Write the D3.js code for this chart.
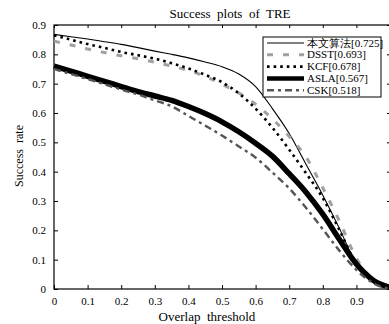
<!DOCTYPE html>
<html>
<head>
<meta charset="utf-8">
<script src="https://cdn.jsdelivr.net/npm/d3@7"></script>
<style>
  body { margin: 0; background: #fff; }
  text { font-family: "Liberation Serif", "DejaVu Serif", serif; fill: #000; }
</style>
</head>
<body>
<div id="chart"></div>
<script>
// overlap thresholds (x values)
var thresholds = [0, 0.05, 0.1, 0.15, 0.2, 0.25, 0.3, 0.35, 0.4, 0.45, 0.5,
                  0.55, 0.6, 0.65, 0.7, 0.75, 0.8, 0.85, 0.9, 0.95, 1.0];

// success rate per tracker
var oursVals = [0.868, 0.860, 0.852, 0.843, 0.834, 0.823, 0.811, 0.800, 0.788, 0.774, 0.758,
                0.733, 0.690, 0.615, 0.530, 0.425, 0.320, 0.205, 0.085, 0.025, 0.0];
var dsstVals = [0.845, 0.832, 0.818, 0.806, 0.795, 0.785, 0.773, 0.760, 0.745, 0.725, 0.698,
                0.668, 0.630, 0.580, 0.520, 0.450, 0.345, 0.230, 0.105, 0.030, 0.0];
var kcfVals  = [0.865, 0.850, 0.835, 0.822, 0.808, 0.797, 0.785, 0.770, 0.752, 0.730, 0.705,
                0.667, 0.615, 0.550, 0.475, 0.395, 0.310, 0.200, 0.085, 0.025, 0.0];
var aslaVals = [0.760, 0.743, 0.725, 0.708, 0.690, 0.673, 0.658, 0.643, 0.622, 0.598, 0.570,
                0.536, 0.497, 0.453, 0.393, 0.330, 0.255, 0.168, 0.085, 0.030, 0.005];
var cskVals  = [0.750, 0.733, 0.716, 0.698, 0.680, 0.663, 0.643, 0.623, 0.590, 0.557, 0.523,
                0.486, 0.448, 0.397, 0.343, 0.277, 0.204, 0.130, 0.065, 0.020, 0.0];

var legendNames = ["本文算法[0.725]", "DSST[0.693]", "KCF[0.678]", "ASLA[0.567]", "CSK[0.518]"];
var xTicks = [0, 0.1, 0.2, 0.3, 0.4, 0.5, 0.6, 0.7, 0.8, 0.9];
var yTicks = [0, 0.1, 0.2, 0.3, 0.4, 0.5, 0.6, 0.7, 0.8, 0.9];

var w = 389, h = 324;
var padL = 54, padR = 390, padT = 25, padB = 289;

var xScale = d3.scaleLinear().domain([0, 1]).range([padL, padR]);
var yScale = d3.scaleLinear().domain([0, 0.9]).range([padB, padT]);

var svg = d3.select("#chart").append("svg")
            .attr("width", w)
            .attr("height", h);

// styles for each series (order matches legendNames)
var series = [
  { vals: oursVals, stroke: "#000", width: 1.1, dash: null },
  { vals: dsstVals, stroke: "#a0a0a0", width: 3, dash: "6 10" },
  { vals: kcfVals,  stroke: "#000", width: 2.6, dash: "2.6 4" },
  { vals: aslaVals, stroke: "#000", width: 5.5, dash: null },
  { vals: cskVals,  stroke: "#555", width: 2.4, dash: "7 4 3 4" }
];

var line = d3.line()
             .x(function(d, i) { return xScale(thresholds[i]); })
             .y(function(d) { return yScale(d); })
             .curve(d3.curveMonotoneX);

// frame
svg.append("rect")
   .attr("x", padL).attr("y", padT)
   .attr("width", padR - padL).attr("height", padB - padT)
   .attr("fill", "none").attr("stroke", "#000").attr("stroke-width", 1.2);

// axes, ticks pointing inwards, mirrored on top/right
var fmt = function(d) { return d === 0 ? "0" : d3.format(".1f")(d); };
svg.append("g").attr("transform", "translate(0," + padB + ")")
   .call(d3.axisBottom(xScale).tickValues(xTicks).tickSizeInner(-4).tickSizeOuter(0)
           .tickPadding(8).tickFormat(fmt))
   .call(function(g) { g.select(".domain").remove(); });
svg.append("g").attr("transform", "translate(0," + padT + ")")
   .call(d3.axisTop(xScale).tickValues(xTicks).tickSizeInner(-3).tickSizeOuter(0).tickFormat(""))
   .call(function(g) { g.select(".domain").remove(); });
svg.append("g").attr("transform", "translate(" + padL + ",0)")
   .call(d3.axisLeft(yScale).tickValues(yTicks).tickSizeInner(-4).tickSizeOuter(0)
           .tickPadding(8).tickFormat(fmt))
   .call(function(g) { g.select(".domain").remove(); });
svg.append("g").attr("transform", "translate(" + padR + ",0)")
   .call(d3.axisRight(yScale).tickValues(yTicks).tickSizeInner(-3).tickSizeOuter(0).tickFormat(""))
   .call(function(g) { g.select(".domain").remove(); });

svg.selectAll(".tick text").attr("font-size", 11)
   .style("font-family", "'Liberation Serif', serif");

// curves
series.forEach(function(s) {
  svg.append("path")
     .datum(s.vals)
     .attr("d", line)
     .attr("fill", "none")
     .attr("stroke", s.stroke)
     .attr("stroke-width", s.width)
     .attr("stroke-dasharray", s.dash);
});

// titles
svg.append("text").attr("x", 230).attr("y", 18).attr("text-anchor", "middle")
   .attr("font-size", 13).style("white-space", "pre").text("Success  plots  of  TRE");
svg.append("text").attr("x", 207).attr("y", 321).attr("text-anchor", "middle")
   .attr("font-size", 13).style("white-space", "pre").text("Overlap  threshold");
svg.append("text").attr("transform", "translate(23,156) rotate(-90)").attr("text-anchor", "middle")
   .attr("font-size", 12).style("white-space", "pre").text("Success  rate");

// legend
var lg = svg.append("g");
lg.append("rect").attr("x", 263).attr("y", 37).attr("width", 118).attr("height", 60)
  .attr("fill", "#fff").attr("stroke", "#000").attr("stroke-width", 1);
legendNames.forEach(function(name, i) {
  var yy = 43 + i * 11.8;
  var s = series[i];
  lg.append("line").attr("x1", 267).attr("x2", 304).attr("y1", yy).attr("y2", yy)
    .attr("stroke", s.stroke).attr("stroke-width", Math.min(s.width, 4.5))
    .attr("stroke-dasharray", s.dash);
  lg.append("text").attr("x", 307).attr("y", yy + 3.5).attr("font-size", 11)
    .text(name);
});
</script>
</body>
</html>
